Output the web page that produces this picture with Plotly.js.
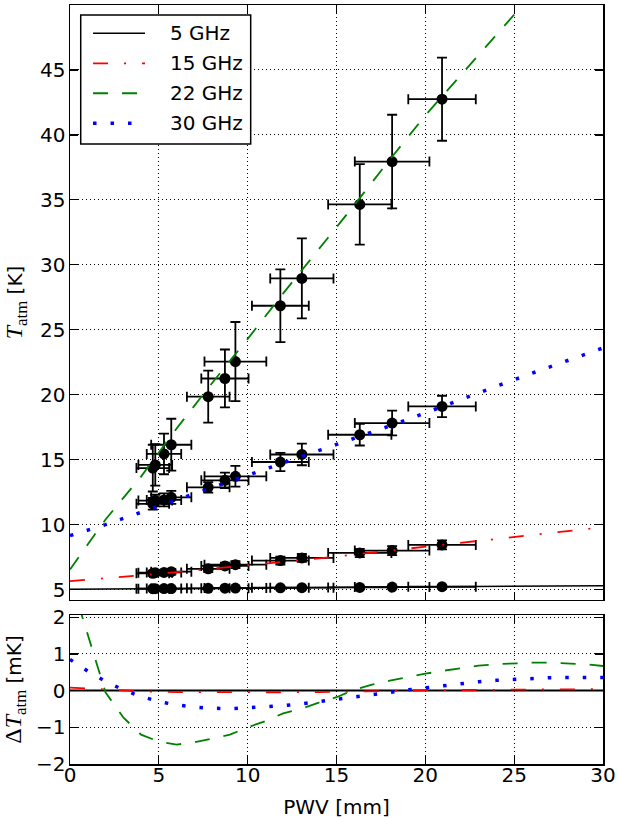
<!DOCTYPE html>
<html>
<head>
<meta charset="utf-8">
<script src="https://cdn.plot.ly/plotly-3.0.1.min.js"></script>
<style>
  html, body { margin: 0; padding: 0; background: #fff; }
  #chart { width: 618px; height: 819px; }
</style>
</head>
<body>
<div id="chart"></div>
<script>
// Measured PWV of each observation and its uncertainty [mm]
const pwv    = [4.66, 4.80, 5.29, 5.70, 7.78, 8.72, 9.31, 11.84, 13.05, 16.31, 18.13, 20.94];
const pwvErr = [0.92, 0.95, 0.97, 1.13, 1.20, 1.33, 1.74, 1.60, 1.78, 1.78, 2.10, 1.90];

// Measured atmospheric temperature per band [K]
const t5     = [5.07, 5.07, 5.08, 5.08, 5.10, 5.11, 5.12, 5.14, 5.15, 5.17, 5.19, 5.22];
const t5Err  = [0.04, 0.04, 0.04, 0.04, 0.04, 0.04, 0.05, 0.05, 0.05, 0.05, 0.05, 0.05];
const t15    = [6.25, 6.30, 6.32, 6.38, 6.60, 6.82, 6.92, 7.23, 7.44, 7.82, 8.00, 8.44];
const t15Err = [0.20, 0.20, 0.20, 0.22, 0.25, 0.25, 0.27, 0.30, 0.30, 0.32, 0.35, 0.35];
const t22    = [14.35, 14.60, 15.44, 16.15, 19.85, 21.25, 22.55, 26.85, 28.95, 34.65, 37.95, 42.75];
const t22Err = [1.80, 1.60, 1.56, 2.00, 2.00, 2.23, 3.05, 2.80, 3.08, 3.10, 3.60, 3.20];
const t30    = [11.60, 11.85, 11.90, 12.10, 12.87, 13.41, 13.72, 14.82, 15.40, 16.92, 17.82, 19.10];
const t30Err = [0.45, 0.45, 0.50, 0.50, 0.40, 0.60, 0.80, 0.70, 0.83, 0.83, 0.95, 0.82];

// Model atmospheric temperature vs PWV [K]
const modelPwv = [0, 2, 4, 6, 8, 10, 12, 14, 16, 18, 20, 22, 24, 26, 28, 30];
const m5  = [5.03, 5.05, 5.06, 5.08, 5.10, 5.12, 5.14, 5.15, 5.17, 5.19, 5.21, 5.22, 5.24, 5.26, 5.28, 5.30];
const m15 = [5.65, 5.85, 6.10, 6.35, 6.60, 6.85, 7.15, 7.40, 7.70, 8.00, 8.30, 8.60, 8.90, 9.20, 9.50, 9.80];
const m22 = [6.55, 10.4, 13.7, 17.4, 20.9, 24.3, 27.8, 31.2, 34.6, 38.1, 41.5, 44.6, 47.7, 50.8, 53.9, 57.0];
const m30 = [9.15, 10.0, 10.95, 11.9, 12.85, 13.75, 14.7, 15.65, 16.65, 17.6, 18.6, 19.65, 20.65, 21.65, 22.65, 23.6];

// Model residuals [mK]
const dPwv = [0, 1, 2, 3, 4, 5, 6, 7, 8, 9, 10, 11, 12, 13, 14, 15, 16, 17, 18, 19, 20, 21, 22, 23, 24, 25, 26, 27, 28, 29, 30];
const d22 = [3.1, 1.55, -0.05, -0.73, -1.2, -1.39, -1.47, -1.41, -1.31, -1.2, -1.0, -0.83, -0.62, -0.5, -0.33, -0.18,
             0.02, 0.16, 0.27, 0.37, 0.46, 0.54, 0.62, 0.68, 0.72, 0.75, 0.76, 0.76, 0.75, 0.72, 0.67];
const d30 = [0.85, 0.53, 0.25, 0.02, -0.16, -0.3, -0.39, -0.45, -0.48, -0.49, -0.47, -0.45, -0.41, -0.36, -0.3, -0.24,
             -0.19, -0.12, -0.05, 0.02, 0.08, 0.14, 0.19, 0.24, 0.28, 0.31, 0.33, 0.35, 0.36, 0.36, 0.36];
const d15 = [0.08, 0.02, -0.02, -0.04, -0.045, -0.045, -0.045, -0.04, -0.03, -0.01, 0.01, 0.02, 0.03, 0.04, 0.04, 0.04];
const d5  = [0, 0, 0, 0, 0, 0, 0, 0, 0, 0, 0, 0, 0, 0, 0, 0];

const bands = ['5 GHz', '15 GHz', '22 GHz', '30 GHz'];
const xTicks = [0, 5, 10, 15, 20, 25, 30];
const yTicks = [5, 10, 15, 20, 25, 30, 35, 40, 45];
const dTicks = [-2, -1, 0, 1, 2];

const styles = [
  {color: '#000000', width: 1.5, dash: 'solid'},
  {color: '#ff0000', width: 1.8, dash: '15px,16px,2px,16px'},
  {color: '#008000', width: 1.8, dash: '15px,14px'},
  {color: '#0000ff', width: 3.5, dash: '3.5px,14px'}
];

const meas = [[t5, t5Err], [t15, t15Err], [t22, t22Err], [t30, t30Err]];
const models = [m5, m15, m22, m30];
const resid = [[modelPwv, d5], [modelPwv, d15], [dPwv, d22], [dPwv, d30]];

const traces = [];
meas.forEach(([t, e], i) => {
  traces.push({
    x: pwv, y: t, xaxis: 'x', yaxis: 'y', mode: 'markers', type: 'scatter',
    name: bands[i], showlegend: false,
    marker: {color: '#000', size: 11},
    error_x: {type: 'data', array: pwvErr, visible: true, color: '#000', thickness: 1.8, width: 5},
    error_y: {type: 'data', array: e, visible: true, color: '#000', thickness: 1.8, width: 5}
  });
});
models.forEach((m, i) => {
  traces.push({
    x: modelPwv, y: m, xaxis: 'x', yaxis: 'y', mode: 'lines', type: 'scatter',
    name: bands[i], showlegend: false, line: styles[i]
  });
});
resid.forEach(([xs, ys], i) => {
  const st = Object.assign({}, styles[i]);
  if (i === 0) st.width = 2;
  traces.push({
    x: xs, y: ys, xaxis: 'x2', yaxis: 'y2', mode: 'lines', type: 'scatter',
    name: bands[i], showlegend: false, line: st
  });
});

const FONT = 'DejaVu Sans';
const axisBase = {
  showline: true, linecolor: '#000', linewidth: 1.5, mirror: 'ticks',
  ticks: 'inside', ticklen: 8, tickwidth: 1.2, tickcolor: '#000',
  showgrid: true, gridcolor: '#000', gridwidth: 1, griddash: '1px,3px',
  zeroline: false, tickfont: {family: FONT, size: 20, color: '#000'}
};

// Hand-built legend box in the upper-left corner of the top panel
const legendShapes = [{
  type: 'rect', xref: 'paper', yref: 'paper', layer: 'above',
  x0: 0.0201, x1: 0.339, y0: 0.8169, y1: 0.9868,
  line: {color: '#000', width: 1.5}, fillcolor: '#fff'
}];
const legendAnn = [];
const rowY = [0.9627, 0.9232, 0.8837, 0.8441];
bands.forEach((b, i) => {
  legendShapes.push({
    type: 'line', xref: 'paper', yref: 'paper', layer: 'above',
    x0: 0.0432, x1: 0.1407, y0: rowY[i], y1: rowY[i],
    line: {color: styles[i].color, width: styles[i].width, dash: styles[i].dash}
  });
  legendAnn.push({
    xref: 'paper', yref: 'paper', x: 0.1839, y: rowY[i], xanchor: 'left', yanchor: 'middle',
    text: b, showarrow: false, font: {family: FONT, size: 20, color: '#000'}
  });
});

const layout = {
  width: 618, height: 819,
  margin: {l: 70, r: 15, t: 5, b: 55},
  paper_bgcolor: '#fff', plot_bgcolor: '#fff',
  font: {family: FONT, size: 20, color: '#000'},
  showlegend: false,
  xaxis: Object.assign({}, axisBase, {
    domain: [0, 1], anchor: 'y', range: [0, 30], tickvals: xTicks, showticklabels: false
  }),
  yaxis: Object.assign({}, axisBase, {
    domain: [0.2161, 1], anchor: 'x', range: [4.2, 50], tickvals: yTicks, ticklabelstandoff: -1,
    title: {
      text: '<span style="font-family:Liberation Serif;font-size:24px"><i>T</i><sub>atm</sub></span> [K]',
      font: {family: FONT, size: 20, color: '#000'}, standoff: 12
    }
  }),
  xaxis2: Object.assign({}, axisBase, {
    domain: [0, 1], anchor: 'y2', range: [0, 30], tickvals: xTicks, ticklabelstandoff: -8,
    title: {text: 'PWV [mm]', font: {family: FONT, size: 20, color: '#000'}, standoff: 14}
  }),
  yaxis2: Object.assign({}, axisBase, {
    domain: [0, 0.1963], anchor: 'x2', range: [-2, 2.06], tickvals: dTicks, ticklabelstandoff: -1,
    title: {
      text: '<span style="font-family:Liberation Serif;font-size:24px">Δ<i>T</i><sub>atm</sub></span> [mK]',
      font: {family: FONT, size: 20, color: '#000'}, standoff: 12
    }
  }),
  shapes: legendShapes,
  annotations: legendAnn
};

Plotly.newPlot('chart', traces, layout, {displayModeBar: false, staticPlot: true});
</script>
</body>
</html>
